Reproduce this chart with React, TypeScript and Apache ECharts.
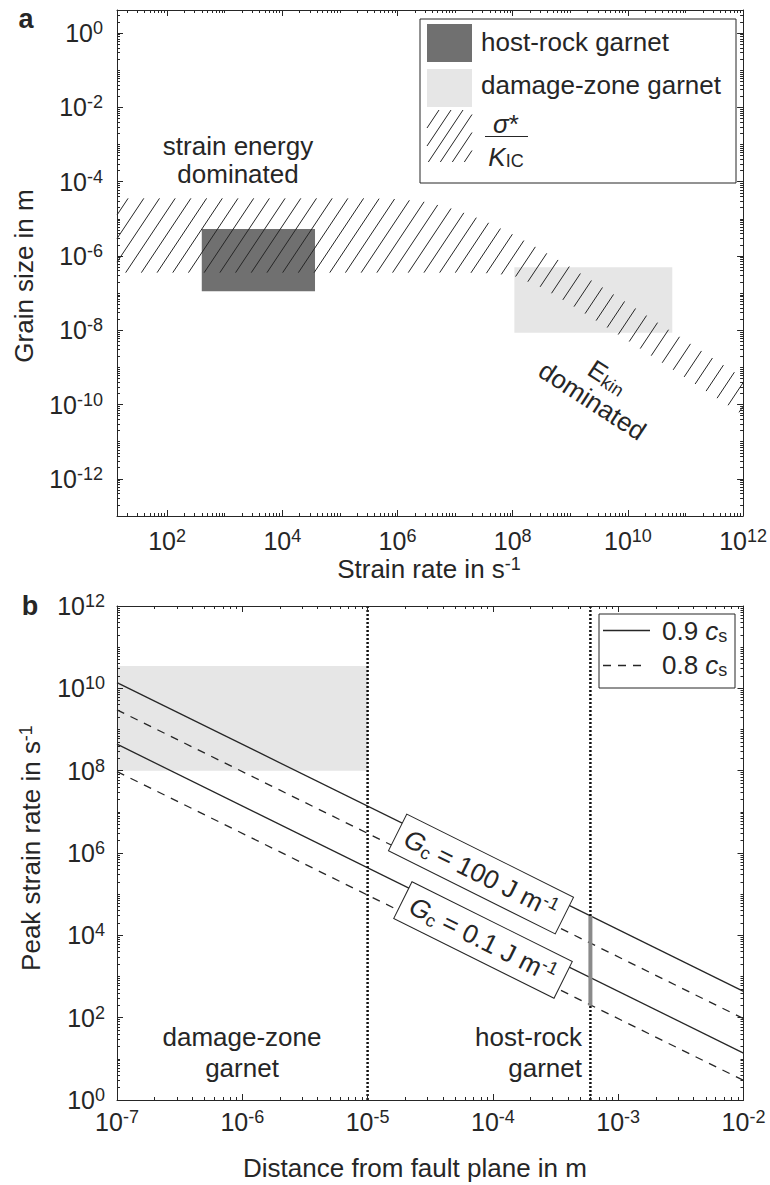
import React, { useEffect, useRef } from 'react';
import * as echarts from 'echarts';

// ---------------- Panel a data ----------------
const bandStrainRate = [13.5, 3.0e5, 1e6, 3.2e6, 1e7, 3.2e7, 1e8, 3.2e8, 1e9, 1e10, 1e11, 1e12];
const bandUpperGrainSize = [3.55e-5, 3.55e-5, 3.39e-5, 2.82e-5, 1.78e-5, 8.9e-6, 3.8e-6, 1.41e-6, 5.0e-7, 5.25e-8, 5.25e-9, 5.25e-10];
const bandLowerGrainSize = [3.55e-7, 3.55e-7, 3.55e-7, 3.55e-7, 3.55e-7, 3.47e-7, 3.0e-7, 1.41e-7, 5.0e-8, 5.25e-9, 5.25e-10, 5.25e-11];
const hostRockStrainRate = [400, 3.7e4];
const hostRockGrainSize = [1.12e-7, 5.3e-6];
const damageZoneStrainRate = [1.07e8, 5.9e10];
const damageZoneGrainSize = [8.5e-9, 5.0e-7];
const strainRateLimits = [13.5, 1e12];
const grainSizeLimits = [1e-13, 4.17];
const strainRateTickExponents = [2, 4, 6, 8, 10, 12];
const grainSizeTickExponents = [-12, -10, -8, -6, -4, -2, 0];

// ---------------- Panel b data ----------------
const distanceLimits = [1e-7, 1e-2];
const peakRateLimits = [1, 1e12];
const lineDistance = [1e-7, 1e-2];
const rate09csGc100 = [1.38e10, 436];
const rate08csGc100 = [3.0e9, 95];
const rate09csGc01 = [4.4e8, 13.8];
const rate08csGc01 = [9.5e7, 3.0];
const damageZoneDistance = [1e-7, 1e-5];
const damageZonePeakRate = [1e8, 3.5e10];
const zoneBoundaryDistance = [1e-5, 6.0e-4];
const hostRockBarDistance = 6.0e-4;
const hostRockBarPeakRate = [195, 2.95e4];
const distanceTickExponents = [-7, -6, -5, -4, -3, -2];
const peakRateTickExponents = [0, 2, 4, 6, 8, 10, 12];

// ---------------- styling ----------------
const L = Math.log10;
const FONT = '"Liberation Sans", Arial, Helvetica, sans-serif';
const INK = '#262626';
const DARK = '#707070';
const LIGHT = '#e6e6e6';
const HATCH_SLOPE = 1.5;
const HATCH_STEP = 15.7;
const HATCH_PHASE = 390.5;

function minorTicks(min: number, max: number, majors: number[]) {
  const out: number[] = [];
  for (let n = Math.floor(min) - 1; n <= Math.ceil(max); n++) {
    for (let k = 1; k <= 9; k++) {
      const v = n + Math.log10(k);
      if (v > min + 1e-6 && v < max - 1e-6 && !majors.some((m) => Math.abs(m - v) < 1e-9)) out.push(v);
    }
  }
  return out;
}

const tickRich = {
  b: { fontSize: 25, fontFamily: FONT, color: INK, lineHeight: 28 },
  s: { fontSize: 18, fontFamily: FONT, color: INK, lineHeight: 15, verticalAlign: 'top' },
};

function supFormatter(v: number) {
  return '{b|10}{s|' + Math.round(v) + '}';
}

function axisSet(gridIndex: number, dim: 'x' | 'y', min: number, max: number, majors: number[], labelMargin: number) {
  const minors = minorTicks(min, max, majors);
  const pos = dim === 'x' ? ['bottom', 'top'] : ['left', 'right'];
  const base = { type: 'value', gridIndex, min, max, z: 10, splitLine: { show: false }, splitArea: { show: false } };
  const line = { show: true, onZero: false, lineStyle: { color: INK, width: 1 } };
  const noLine = { show: false, onZero: false };
  const tickStyle = { color: INK, width: 1 };
  return [
    {
      ...base, position: pos[0], axisLine: line,
      axisTick: { show: true, inside: true, length: 6, customValues: majors, lineStyle: tickStyle },
      axisLabel: { show: true, margin: labelMargin, customValues: majors, formatter: supFormatter, rich: tickRich },
    },
    {
      ...base, position: pos[1], axisLine: line,
      axisTick: { show: true, inside: true, length: 6, customValues: majors, lineStyle: tickStyle },
      axisLabel: { show: false },
    },
    {
      ...base, position: pos[0], axisLine: noLine,
      axisTick: { show: true, inside: true, length: 3, customValues: minors, lineStyle: tickStyle },
      axisLabel: { show: false },
    },
    {
      ...base, position: pos[1], axisLine: noLine,
      axisTick: { show: true, inside: true, length: 3, customValues: minors, lineStyle: tickStyle },
      axisLabel: { show: false },
    },
  ];
}

function rectSeries(xi: number, yi: number, xr: number[], yr: number[], color: string, z: number) {
  return {
    type: 'custom', xAxisIndex: xi, yAxisIndex: yi, z, silent: true,
    dimensions: ['x0', 'y0', 'x1', 'y1'],
    encode: { x: [0, 2], y: [1, 3] },
    data: [[L(xr[0]), L(yr[0]), L(xr[1]), L(yr[1])]],
    renderItem: (_p: any, api: any) => {
      const p0 = api.coord([api.value(0), api.value(1)]);
      const p1 = api.coord([api.value(2), api.value(3)]);
      return {
        type: 'rect',
        shape: { x: Math.min(p0[0], p1[0]), y: Math.min(p0[1], p1[1]), width: Math.abs(p1[0] - p0[0]), height: Math.abs(p1[1] - p0[1]) },
        style: { fill: color },
      };
    },
  };
}

function interp(pts: number[][], px: number) {
  if (px <= pts[0][0]) return pts[0][1];
  for (let i = 1; i < pts.length; i++) {
    if (px <= pts[i][0]) {
      const t = (px - pts[i - 1][0]) / (pts[i][0] - pts[i - 1][0]);
      return pts[i - 1][1] + t * (pts[i][1] - pts[i - 1][1]);
    }
  }
  const n = pts.length;
  const s = (pts[n - 1][1] - pts[n - 2][1]) / (pts[n - 1][0] - pts[n - 2][0]);
  return pts[n - 1][1] + s * (px - pts[n - 1][0]);
}

const hatchSeries = {
  type: 'custom', xAxisIndex: 0, yAxisIndex: 0, z: 4, silent: true,
  data: [[L(bandStrainRate[0]), L(bandUpperGrainSize[0])]],
  renderItem: (params: any, api: any) => {
    const cs = params.coordSys;
    const left = cs.x;
    const right = cs.x + cs.width;
    const up = bandStrainRate.map((r, i) => api.coord([L(r), L(bandUpperGrainSize[i])]));
    const lo = bandStrainRate.map((r, i) => api.coord([L(r), L(bandLowerGrainSize[i])]));
    const m = HATCH_SLOPE;
    const solve = (pts: number[][], c: number) => {
      let a = left - 3000;
      let b = right + 3000;
      for (let k = 0; k < 60; k++) {
        const mid = (a + b) / 2;
        const f = c - m * mid - interp(pts, mid);
        if (f > 0) a = mid; else b = mid;
      }
      return (a + b) / 2;
    };
    const cMin = interp(up, left) + m * left;
    const cMax = interp(lo, right) + m * right;
    const dc = m * HATCH_STEP;
    const children: any[] = [];
    const k0 = Math.floor((cMin - HATCH_PHASE) / dc) - 1;
    const k1 = Math.ceil((cMax - HATCH_PHASE) / dc) + 1;
    for (let k = k0; k <= k1; k++) {
      const c = HATCH_PHASE + k * dc;
      const s = Math.max(solve(lo, c), left);
      const e = Math.min(solve(up, c), right);
      if (e > s + 0.5) {
        children.push({
          type: 'line',
          shape: { x1: s, y1: c - m * s, x2: e, y2: c - m * e },
          style: { stroke: INK, lineWidth: 1 },
        });
      }
    }
    return { type: 'group', children };
  },
};

function lineSeries(values: number[], type: any) {
  return {
    type: 'line', xAxisIndex: 4, yAxisIndex: 4, z: 3, silent: true,
    symbol: 'none', showSymbol: false,
    data: lineDistance.map((d, i) => [L(d), L(values[i])]),
    lineStyle: { color: INK, width: 1.3, type },
  };
}

function text(str: string, x: number, y: number, o: any = {}) {
  const align = o.align || 'center';
  return {
    type: 'text', x, y, rotation: o.rotation || 0, z: 100, silent: true,
    style: {
      text: str, fontSize: o.fontSize || 26, fontFamily: FONT, fontWeight: o.fontWeight || 'normal',
      fontStyle: o.fontStyle || 'normal', fill: INK,
      align, verticalAlign: 'middle', textAlign: align, textVerticalAlign: 'middle',
      lineHeight: o.lineHeight, rich: o.rich,
      backgroundColor: o.backgroundColor, borderColor: o.borderColor, borderWidth: o.borderWidth, padding: o.padding,
    },
  };
}

const nameRich = {
  a: { fontSize: 26, fontFamily: FONT, fill: INK, lineHeight: 28 },
  s: { fontSize: 18, fontFamily: FONT, fill: INK, lineHeight: 15, verticalAlign: 'top' },
};

const annoRich = (lh: number) => ({
  n: { fontSize: 26, fontFamily: FONT, fill: INK, lineHeight: lh },
  i: { fontSize: 26, fontFamily: FONT, fill: INK, lineHeight: lh, fontStyle: 'italic' },
  sub: { fontSize: 18, fontFamily: FONT, fill: INK, lineHeight: 15, verticalAlign: 'bottom' },
  sup: { fontSize: 18, fontFamily: FONT, fill: INK, lineHeight: 18, verticalAlign: 'top' },
});

function hatchSwatch(x: number, y: number, w: number, h: number) {
  const m = HATCH_SLOPE;
  const out: any[] = [];
  const dc = m * 12;
  for (let c = y + m * x; c <= y + h + m * (x + w) + dc; c += dc) {
    const xb = (c - (y + h)) / m;
    const xt = (c - y) / m;
    const s = Math.max(x, xb);
    const e = Math.min(x + w, xt);
    if (e > s + 0.5) {
      out.push({ type: 'line', z: 101, silent: true, shape: { x1: s, y1: c - m * s, x2: e, y2: c - m * e }, style: { stroke: INK, lineWidth: 1 } });
    }
  }
  return out;
}

function buildOption() {
  const ax = axisSet(0, 'x', L(strainRateLimits[0]), L(strainRateLimits[1]), strainRateTickExponents, 11);
  const ay = axisSet(0, 'y', L(grainSizeLimits[0]), L(grainSizeLimits[1]), grainSizeTickExponents, 14);
  const bx = axisSet(1, 'x', L(distanceLimits[0]), L(distanceLimits[1]), distanceTickExponents, 8);
  const by = axisSet(1, 'y', L(peakRateLimits[0]), L(peakRateLimits[1]), peakRateTickExponents, 12);

  const rot = (-26.5 * Math.PI) / 180;
  const graphicElements: any[] = [
    text('a', 26, 19, { fontWeight: 'bold', fontSize: 27 }),
    text('b', 30, 606, { fontWeight: 'bold', fontSize: 27 }),
    text('{a|Strain rate in s}{s|-1}', 429, 569, { rich: nameRich }),
    text('{a|Distance from fault plane in m}', 415, 1168, { rich: nameRich }),
    text('{a|Grain size in m}', 24, 276, { rich: nameRich, rotation: Math.PI / 2 }),
    text('{a|Peak strain rate in s}{s|-1}', 31, 848, { rich: nameRich, rotation: Math.PI / 2 }),
    text('strain energy\ndominated', 238, 160, { lineHeight: 28 }),
    text('{n|E}{sub|kin}\n{n|dominated}', 600, 389, { rich: annoRich(28), rotation: (-33 * Math.PI) / 180 }),
    text('damage-zone\ngarnet', 242, 1052, { lineHeight: 31 }),
    text('host-rock\ngarnet', 582, 1052, { lineHeight: 31, align: 'right' }),
    text('{i|G}{sub|c}{n| = 100 J m}{sup|-1}', 481, 874, {
      rich: annoRich(30), rotation: rot, backgroundColor: '#fff', borderColor: INK, borderWidth: 1, padding: [5, 9, 5, 9],
    }),
    text('{i|G}{sub|c}{n| = 0.1 J m}{sup|-1}', 483, 940, {
      rich: annoRich(30), rotation: rot, backgroundColor: '#fff', borderColor: INK, borderWidth: 1, padding: [5, 9, 5, 9],
    }),
    // legend a
    { type: 'rect', z: 100, silent: true, shape: { x: 420, y: 19, width: 316, height: 164 }, style: { fill: '#fff', stroke: INK, lineWidth: 1 } },
    { type: 'rect', z: 101, silent: true, shape: { x: 427, y: 24, width: 45, height: 38 }, style: { fill: DARK } },
    { type: 'rect', z: 101, silent: true, shape: { x: 427, y: 69, width: 45, height: 38 }, style: { fill: LIGHT } },
    ...hatchSwatch(427, 110, 45, 52),
    text('host-rock garnet', 481, 42, { align: 'left' }),
    text('damage-zone garnet', 481, 85, { align: 'left' }),
    text('{i|σ}{n|*}', 506, 124, { rich: annoRich(26) }),
    { type: 'line', z: 101, silent: true, shape: { x1: 485, y1: 136.5, x2: 528, y2: 136.5 }, style: { stroke: INK, lineWidth: 1 } },
    text('{i|K}{sub|IC}', 506, 157, { rich: annoRich(26) }),
    // legend b
    { type: 'rect', z: 100, silent: true, shape: { x: 599, y: 614, width: 136, height: 74 }, style: { fill: '#fff', stroke: INK, lineWidth: 1 } },
    { type: 'line', z: 101, silent: true, shape: { x1: 603, y1: 630.5, x2: 650, y2: 630.5 }, style: { stroke: INK, lineWidth: 1.3 } },
    { type: 'line', z: 101, silent: true, shape: { x1: 603, y1: 665.5, x2: 647, y2: 665.5 }, style: { stroke: INK, lineWidth: 1.3, lineDash: [8, 7] } },
    text('{n|0.9 }{i|c}{sub|s}', 662, 631, { rich: annoRich(28), align: 'left' }),
    text('{n|0.8 }{i|c}{sub|s}', 662, 665, { rich: annoRich(28), align: 'left' }),
  ];

  return {
    animation: false,
    backgroundColor: '#fff',
    grid: [
      { left: 117, top: 10, width: 626.5, height: 506 },
      { left: 117, top: 606, width: 626.5, height: 494 },
    ],
    xAxis: [...ax, ...bx],
    yAxis: [...ay, ...by],
    series: [
      rectSeries(0, 0, damageZoneStrainRate, damageZoneGrainSize, LIGHT, 1),
      rectSeries(0, 0, hostRockStrainRate, hostRockGrainSize, DARK, 2),
      hatchSeries,
      rectSeries(4, 4, damageZoneDistance, damageZonePeakRate, LIGHT, 1),
      lineSeries(rate09csGc100, 'solid'),
      lineSeries(rate08csGc100, [8, 7]),
      lineSeries(rate09csGc01, 'solid'),
      lineSeries(rate08csGc01, [8, 7]),
      ...zoneBoundaryDistance.map((d) => ({
        type: 'line', xAxisIndex: 4, yAxisIndex: 4, z: 4, silent: true, symbol: 'none', showSymbol: false,
        data: [[L(d), L(peakRateLimits[0])], [L(d), L(peakRateLimits[1])]],
        lineStyle: { color: '#111', width: 2.5, type: [2, 2] },
      })),
      {
        type: 'line', xAxisIndex: 4, yAxisIndex: 4, z: 5, silent: true, symbol: 'none', showSymbol: false,
        data: hostRockBarPeakRate.map((r) => [L(hostRockBarDistance), L(r)]),
        lineStyle: { color: '#8a8a8a', width: 4 },
      },
    ],
    graphic: { elements: graphicElements },
  };
}

export default function App() {
  const ref = useRef<HTMLDivElement>(null);
  useEffect(() => {
    if (!ref.current) return;
    const chart = echarts.init(ref.current, null, { renderer: 'svg' });
    chart.setOption(buildOption() as any);
    return () => chart.dispose();
  }, []);
  return <div ref={ref} style={{ position: 'fixed', left: 0, top: 0, width: 770, height: 1185, background: '#fff' }} />;
}
